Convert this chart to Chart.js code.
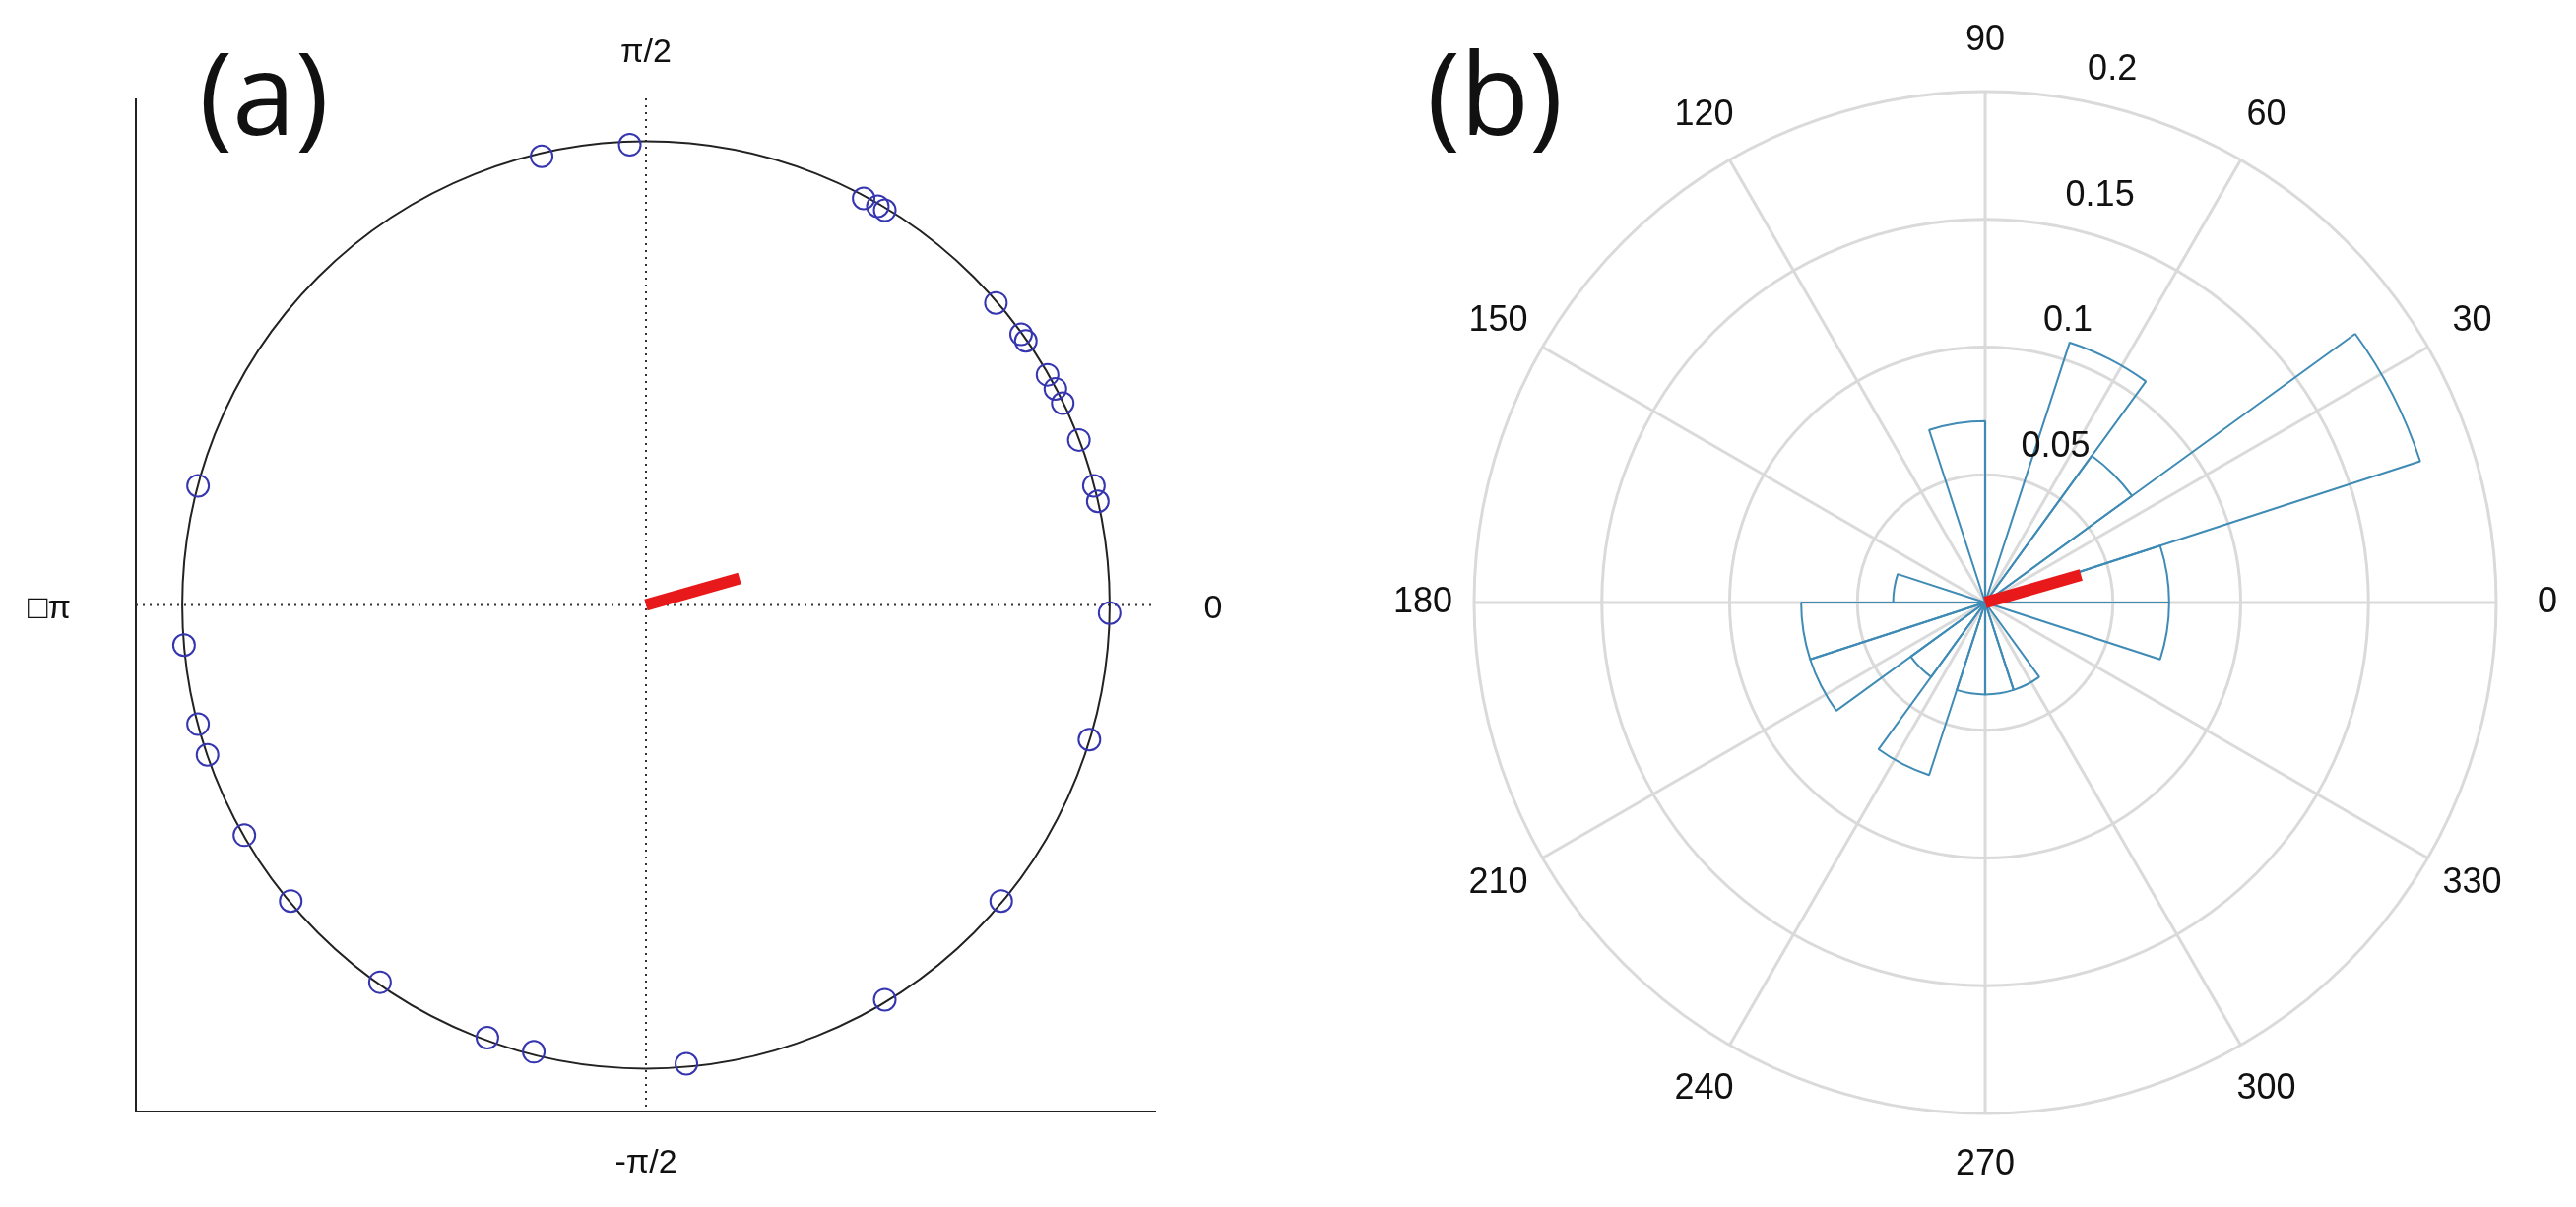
<!DOCTYPE html>
<html><head><meta charset="utf-8">
<script src="https://cdn.jsdelivr.net/npm/chart.js@4"></script>
<style>
html,body{margin:0;padding:0;background:#fff;width:2616px;height:1226px;overflow:hidden}
.box{position:absolute;top:0}
</style></head><body>
<div class="box" style="left:0;width:1300px;height:1226px"><canvas id="ca"></canvas></div>
<div class="box" style="left:1300px;width:1316px;height:1226px"><canvas id="cb"></canvas></div>
<script>
// phase angles of the samples (degrees)
const phaseDeg = [92,103,62,60,59,41,36,35,30,28,26,21,15,13,-1,-17,-40,-59,-85,-104,-110,-125,-140,-150,-161,-165,-175,165];
// mean resultant vector
const meanAngleDeg = 16;
const meanLengthA = 0.21;   // in panel (a), unit circle
const meanLengthB = 0.039;  // in panel (b), probability scale
// histogram bins (18 deg wide, starting at 0), probability
const binStartDeg = [0,18,36,54,72,90,108,126,144,162,180,198,216,234,252,270,288,306,324,342];
const binProb = [0.072,0.179,0.071,0.107,0,0.071,0,0,0,0.036,0.072,0.072,0.036,0.071,0.036,0.036,0.036,0,0,0.072];
const rTicks = [0.05,0.1,0.15,0.2];
const angleTicks = [0,30,60,90,120,150,180,210,240,270,300,330];
const axisLabelsA = {top:'π/2', bottom:'-π/2', left:'□π', right:'0'};

const rad = d => d*Math.PI/180;
Chart.defaults.font.family = "'Liberation Sans', Arial, sans-serif";

// ---------- panel (a) ----------
const plugA = {
  id:'plugA',
  beforeDatasetsDraw(ch){
    const c = ch.ctx, xs = ch.scales.x, ys = ch.scales.y, a = ch.chartArea;
    const cx = xs.getPixelForValue(0), cy = ys.getPixelForValue(0);
    const r = xs.getPixelForValue(1) - cx;
    c.save();
    c.strokeStyle = '#222'; c.lineWidth = 2;
    c.beginPath(); c.moveTo(a.left, a.top); c.lineTo(a.left, a.bottom); c.lineTo(a.right, a.bottom); c.stroke();
    c.setLineDash([2,5]); c.lineWidth = 2; c.strokeStyle = '#333';
    c.beginPath(); c.moveTo(cx, a.top); c.lineTo(cx, a.bottom); c.moveTo(a.left, cy); c.lineTo(a.right, cy); c.stroke();
    c.setLineDash([]);
    c.lineWidth = 2; c.strokeStyle = '#222';
    c.beginPath(); c.arc(cx, cy, r, 0, Math.PI*2); c.stroke();
    c.restore();
  },
  afterDatasetsDraw(ch){
    const c = ch.ctx, xs = ch.scales.x, ys = ch.scales.y;
    const cx = xs.getPixelForValue(0), cy = ys.getPixelForValue(0);
    c.save();
    c.strokeStyle = '#e8191b'; c.lineWidth = 12; c.lineCap = 'butt';
    c.beginPath(); c.moveTo(cx, cy);
    c.lineTo(xs.getPixelForValue(meanLengthA*Math.cos(rad(meanAngleDeg))), ys.getPixelForValue(meanLengthA*Math.sin(rad(meanAngleDeg))));
    c.stroke();
    c.fillStyle = '#111'; c.font = "34px 'Liberation Sans', Arial"; c.textAlign = 'center'; c.textBaseline = 'middle';
    c.fillText(axisLabelsA.top, cx, 54);
    c.fillText(axisLabelsA.bottom, cx, 1182);
    c.fillText(axisLabelsA.left, 50, cy + 4);
    c.fillText(axisLabelsA.right, 1232, cy + 4);
    c.font = "115px 'Open Sans', 'Liberation Sans', sans-serif";
    c.fillText('(a)', 268, 104);
    c.restore();
  }
};
new Chart(document.getElementById('ca'), {
  type:'scatter',
  data:{datasets:[{
    data: phaseDeg.map(d => ({x:Math.cos(rad(d)), y:Math.sin(rad(d))})),
    pointRadius:11, pointBorderWidth:2, borderColor:'#3535b0', backgroundColor:'rgba(0,0,0,0)', pointHoverRadius:11
  }]},
  options:{
    responsive:true, maintainAspectRatio:false, animation:false,
    layout:{padding:{left:138, top:100, right:126, bottom:97}},
    plugins:{legend:{display:false}, tooltip:{enabled:false}},
    scales:{
      x:{type:'linear', min:-1.1, max:1.1, display:false},
      y:{type:'linear', min:-1.1, max:1.1, display:false}
    }
  },
  plugins:[plugA]
});

// ---------- panel (b) ----------
const plugB = {
  id:'plugB',
  beforeDatasetsDraw(ch){
    const c = ch.ctx, s = ch.scales.r;
    const cx = s.xCenter, cy = s.yCenter, R = s.getDistanceFromCenterForValue(0.2);
    c.save();
    c.strokeStyle = '#dadada'; c.lineWidth = 3;
    angleTicks.forEach(d => {
      c.beginPath(); c.moveTo(cx, cy);
      c.lineTo(cx + R*Math.cos(rad(d)), cy - R*Math.sin(rad(d))); c.stroke();
    });
    c.restore();
  },
  afterDatasetsDraw(ch){
    const c = ch.ctx, s = ch.scales.r;
    const cx = s.xCenter, cy = s.yCenter, R = s.getDistanceFromCenterForValue(0.2);
    c.save();
    const L = s.getDistanceFromCenterForValue(meanLengthB);
    c.strokeStyle = '#e8191b'; c.lineWidth = 12;
    c.beginPath(); c.moveTo(cx, cy);
    c.lineTo(cx + L*Math.cos(rad(meanAngleDeg)), cy - L*Math.sin(rad(meanAngleDeg))); c.stroke();
    c.fillStyle = '#111'; c.font = "36px 'Liberation Sans', Arial"; c.textAlign = 'center'; c.textBaseline = 'middle';
    angleTicks.forEach(d => {
      const rr = R + 52;
      c.fillText(String(d), cx + rr*Math.cos(rad(d)), cy - rr*Math.sin(rad(d)));
    });
    c.textAlign = 'left'; c.textBaseline = 'bottom';
    rTicks.forEach(v => {
      const rr = s.getDistanceFromCenterForValue(v);
      c.fillText(String(v), cx + rr*Math.cos(rad(80)) + 14, cy - rr*Math.sin(rad(80)) - 12);
    });
    c.font = "115px 'Open Sans', 'Liberation Sans', sans-serif"; c.textAlign = 'center'; c.textBaseline = 'middle';
    c.fillText('(b)', 1518 - 1300, 104);
    c.restore();
  }
};
new Chart(document.getElementById('cb'), {
  type:'polarArea',
  data:{
    labels: binStartDeg.slice().reverse().map(String),
    datasets:[{
      data: binProb.slice().reverse(),
      backgroundColor:'rgba(0,0,0,0)', borderColor:'#3f8bb5', borderWidth:2, borderAlign:'center'
    }]
  },
  options:{
    responsive:true, maintainAspectRatio:false, animation:false,
    layout:{padding:{left:197, top:93, right:81, bottom:95}},
    plugins:{legend:{display:false}, tooltip:{enabled:false}},
    scales:{r:{
      min:0, max:0.2, startAngle:90,
      ticks:{display:false, stepSize:0.05},
      grid:{color:'#dadada', lineWidth:3},
      angleLines:{display:false},
      pointLabels:{display:false}
    }}
  },
  plugins:[plugB]
});
</script>
</body></html>
